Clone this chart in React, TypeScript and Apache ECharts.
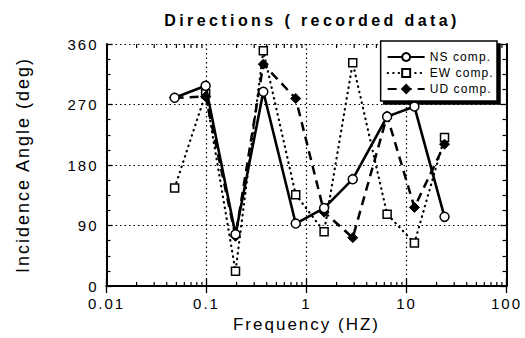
import React, { useEffect, useRef } from "react";
import * as echarts from "echarts";

// Frequencies (Hz) of each analysed band
const freqs = [0.048, 0.098, 0.195, 0.37, 0.78, 1.5, 2.9, 6.4, 12, 24];
// Incidence angles (deg) per component
const nsAngles = [280, 298, 77, 289, 93, 116, 159, 252, 267, 103];
const ewAngles = [146, 286, 22, 350, 136, 81, 332, 107, 64, 221];
const udAngles = [280, 282, 74, 330, 279, 110, 72, 253, 117, 211];

const seriesNames = ["NS comp.", "EW comp.", "UD comp."];
const xDecades = [0.01, 0.1, 1, 10];
const minorMultipliers = [2, 3, 4, 5, 6, 7, 8, 9];
const yTicks = [0, 90, 180, 270, 360];

const FONT = "Liberation Sans";

// wide, typewriter-like spacing of the lettering
const css = `
.incidence-chart text { letter-spacing: 2px; }
.incidence-chart text[style*="bold"] { letter-spacing: 3.4px; }
.incidence-chart text[style*="12px"] { letter-spacing: 1.1px; }
`;

export default function App() {
  const ref = useRef<HTMLDivElement>(null);

  useEffect(() => {
    if (!ref.current) return;
    const chart = echarts.init(ref.current, undefined, { renderer: "svg" });

    const minorX = xDecades.flatMap((d) => minorMultipliers.map((m) => [m * d, 0]));
    const pair = (ys: number[]) => freqs.map((f, i) => [f, ys[i]]);

    const xBase = {
      type: "log" as const,
      logBase: 10,
      min: 0.01,
      max: 100,
      axisLine: { show: true, lineStyle: { color: "#000", width: 2 } },
      axisTick: { show: true, inside: true, length: 7, lineStyle: { color: "#000", width: 1.3 } },
    };
    const yBase = {
      type: "value" as const,
      min: yTicks[0],
      max: yTicks[yTicks.length - 1],
      interval: 90,
      axisLine: { show: true, lineStyle: { color: "#000", width: 2 } },
      axisTick: { show: true, inside: true, length: 6, lineStyle: { color: "#000", width: 1.3 } },
      minorTick: { show: true, splitNumber: 4, length: 4, lineStyle: { color: "#000", width: 1.2 } },
    };
    const gridLine = { show: true, lineStyle: { color: "#000", width: 1.2, type: [1.5, 3] as number[] } };

    chart.setOption({
      animation: false,
      textStyle: { fontFamily: FONT, color: "#000" },
      title: {
        text: "Directions ( recorded data)",
        left: 307,
        textAlign: "center",
        top: 7,
        textStyle: { fontFamily: FONT, fontWeight: "bold", fontSize: 16, color: "#000" },
      },
      grid: { left: 106.5, right: 18.5, top: 44, bottom: 45 },
      legend: {
        data: seriesNames,
        orient: "vertical",
        right: 28,
        top: 41,
        backgroundColor: "#fff",
        borderColor: "#000",
        borderWidth: 1.5,
        padding: [10, 12, 6, 6],
        itemGap: 4,
        itemWidth: 37,
        itemHeight: 10,
        itemTextGap: 2,
        shadowColor: "#000",
        shadowBlur: 0,
        shadowOffsetX: 3,
        shadowOffsetY: 3,
        textStyle: { fontFamily: FONT, fontSize: 12, color: "#000" },
      },
      xAxis: [
        {
          ...xBase,
          position: "bottom",
          name: "Frequency (HZ)",
          nameLocation: "middle",
          nameGap: 27,
          nameTextStyle: { fontFamily: FONT, fontSize: 17, color: "#000" },
          axisLabel: { fontFamily: FONT, fontSize: 15, color: "#000", margin: 10 },
          splitLine: gridLine,
        },
        {
          ...xBase,
          position: "top",
          axisLabel: { show: false },
          splitLine: { show: false },
        },
      ],
      yAxis: [
        {
          ...yBase,
          position: "left",
          name: "Incidence Angle (deg)",
          nameLocation: "middle",
          nameGap: 75,
          nameTextStyle: { fontFamily: FONT, fontSize: 18, color: "#000" },
          axisLabel: { fontFamily: FONT, fontSize: 15, color: "#000", margin: 8 },
          splitLine: gridLine,
        },
        {
          ...yBase,
          position: "right",
          axisLabel: { show: false },
          splitLine: { show: false },
        },
      ],
      series: [
        {
          // minor ticks of the logarithmic frequency axis, bottom and top
          type: "custom",
          name: "minorTicks",
          silent: true,
          xAxisIndex: 0,
          yAxisIndex: 0,
          data: minorX,
          encode: { x: 0, y: 1 },
          renderItem: (params: any, api: any) => {
            const cs = params.coordSys;
            const x = api.coord([api.value(0), 180])[0];
            const top = cs.y;
            const bottom = cs.y + cs.height;
            const style = { stroke: "#000", lineWidth: 1.2 };
            return {
              type: "group",
              children: [
                { type: "line", shape: { x1: x, y1: bottom, x2: x, y2: bottom - 4 }, style },
                { type: "line", shape: { x1: x, y1: top, x2: x, y2: top + 4 }, style },
              ],
            };
          },
          z: 3,
        },
        {
          name: "EW comp.",
          type: "line",
          data: pair(ewAngles),
          symbol: "rect",
          symbolSize: 8,
          lineStyle: { color: "#000", width: 2.2, type: [0.5, 5], cap: "round" },
          itemStyle: { color: "#fff", borderColor: "#000", borderWidth: 1.5 },
          z: 4,
        },
        {
          name: "UD comp.",
          type: "line",
          data: pair(udAngles),
          symbol: "diamond",
          symbolSize: 10,
          lineStyle: { color: "#000", width: 2.5, type: [9, 6] },
          itemStyle: { color: "#000", borderColor: "#000", borderWidth: 1 },
          z: 5,
        },
        {
          name: "NS comp.",
          type: "line",
          data: pair(nsAngles),
          symbol: "circle",
          symbolSize: 9,
          lineStyle: { color: "#000", width: 2.6, type: "solid" },
          itemStyle: { color: "#fff", borderColor: "#000", borderWidth: 1.5 },
          z: 6,
        },
      ],
    });

    return () => chart.dispose();
  }, []);

  return (
    <>
      <style>{css}</style>
      <div
        ref={ref}
        className="incidence-chart"
        style={{ position: "absolute", left: 0, top: 0, width: 525, height: 338, background: "#fff" }}
      />
    </>
  );
}
